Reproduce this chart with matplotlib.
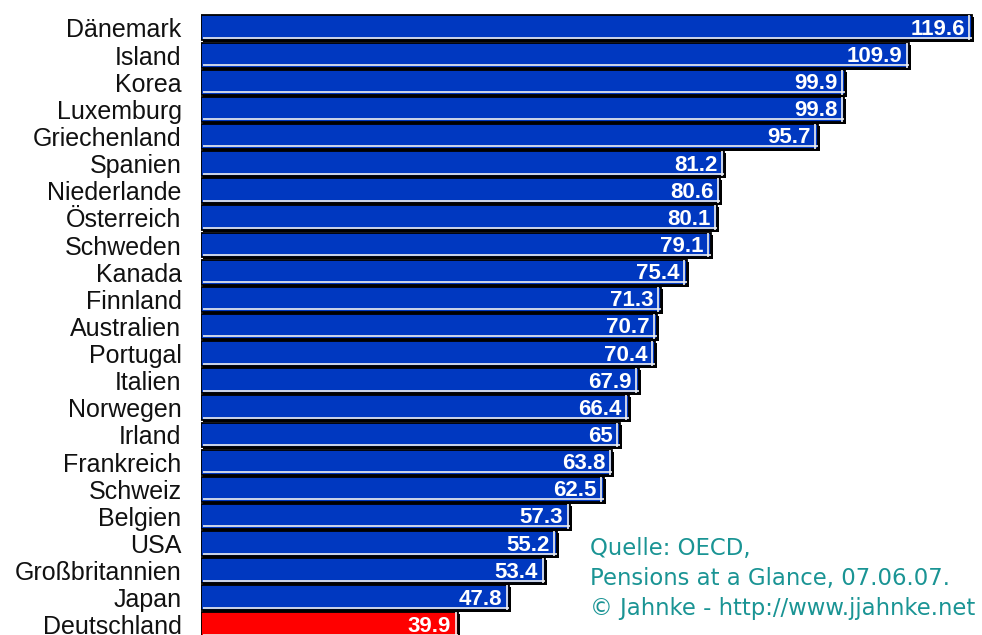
import matplotlib
matplotlib.use("Agg")
import matplotlib.pyplot as plt
from matplotlib.transforms import offset_copy

plt.rcParams['font.family'] = ['Liberation Sans', 'DejaVu Sans']

# Data
countries = [
    "Dänemark", "Island", "Korea", "Luxemburg", "Griechenland", "Spanien",
    "Niederlande", "Österreich", "Schweden", "Kanada", "Finnland", "Australien",
    "Portugal", "Italien", "Norwegen", "Irland", "Frankreich", "Schweiz",
    "Belgien", "USA", "Großbritannien", "Japan", "Deutschland",
]
values = [
    119.6, 109.9, 99.9, 99.8, 95.7, 81.2, 80.6, 80.1, 79.1, 75.4, 71.3, 70.7,
    70.4, 67.9, 66.4, 65, 63.8, 62.5, 57.3, 55.2, 53.4, 47.8, 39.9,
]
value_labels = [
    "119.6", "109.9", "99.9", "99.8", "95.7", "81.2", "80.6", "80.1", "79.1",
    "75.4", "71.3", "70.7", "70.4", "67.9", "66.4", "65", "63.8", "62.5",
    "57.3", "55.2", "53.4", "47.8", "39.9",
]
highlight = "Deutschland"
source_lines = ["Quelle: OECD,", "Pensions at a Glance, 07.06.07.",
                "© Jahnke - http://www.jjahnke.net"]

blue = "#0038C0"
red = "#FF0000"
teal = "#1A9494"
h = 0.92

fig = plt.figure(figsize=(9.82, 6.35), dpi=100)
ax = fig.add_axes([201 / 982, 0, 1 - 201 / 982, 1])

ypos = list(range(len(countries)))
colors = [red if c == highlight else blue for c in countries]

# shadow behind the bars (3D look)
shadow_tr = offset_copy(ax.transData, fig=fig, x=2, y=-2, units="dots")
ax.barh(ypos, values, height=h, color="black", transform=shadow_tr, zorder=1)
ax.barh(ypos, values, height=h, color=colors, edgecolor="black",
        linewidth=1.3, zorder=2)

# light inner edge at bottom and right
bot_tr = offset_copy(ax.transData, fig=fig, x=0, y=2.5, units="dots")
ax.hlines([y + h / 2 for y in ypos], 0.3, values, colors="#f0f0f0",
          linewidth=1.2, transform=bot_tr, zorder=3)
right_tr = offset_copy(ax.transData, fig=fig, x=-2.5, y=0, units="dots")
ax.vlines(values, [y - h / 2 for y in ypos], [y + h / 2 for y in ypos],
          colors="#f0f0f0", linewidth=1.2, transform=right_tr, zorder=3)

# value labels inside bars
lbl_tr = offset_copy(ax.transData, fig=fig, x=-7, y=-1.5, units="dots")
for y, v, s in zip(ypos, values, value_labels):
    ax.text(v, y, s, transform=lbl_tr, ha="right", va="center",
            color="white", fontsize=16, fontweight="bold", zorder=4)

ax.set_xlim(0, (982 - 201) / 6.445)
ax.set_ylim(22.37, -1.028)
ax.set_yticks(ypos)
ax.set_yticklabels(countries, fontsize=18, color="#111111")
ax.tick_params(axis="y", length=0, pad=14)
ax.set_xticks([])
for sp in ax.spines.values():
    sp.set_visible(False)

# source note
for i, line in enumerate(source_lines):
    fig.text(590 / 982, 1 - (548 + 30 * i) / 635, line, color=teal,
             fontsize=16.4, ha="left", va="center", family="DejaVu Sans")

fig.savefig("out.png", dpi=100)
